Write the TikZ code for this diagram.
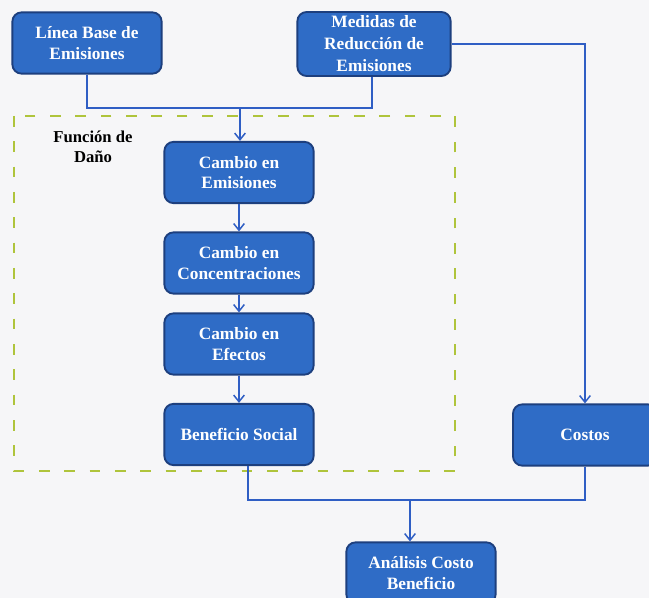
\documentclass[tikz,border=0pt]{standalone}
\usepackage{fontspec}
\setmainfont{Liberation Serif}
\usepackage{xcolor}
\usetikzlibrary{arrows.meta}
\usetikzlibrary{positioning}
\definecolor{boxblue}{HTML}{2F6CC6}
\definecolor{boxedge}{HTML}{1D3F7E}
\definecolor{lineblue}{HTML}{2F5EC4}
\definecolor{danogreen}{HTML}{AFC43C}
\definecolor{paper}{HTML}{F6F6F8}

\begin{document}
\begin{tikzpicture}[x=0.75pt, y=-0.75pt,
	caja/.style={draw=boxedge, line width=1.4pt, fill=boxblue, rounded corners=7pt,
		text=white, font=\bfseries\fontsize{13}{15.5}\selectfont, align=center,
		minimum width=112pt, minimum height=46pt, inner sep=2pt},
	flecha/.style={draw=lineblue, line width=1.1pt, -{Straight Barb[length=5pt,width=8pt]}},
	linea/.style={draw=lineblue, line width=1.1pt}]
					% background
					\fill[paper] (0,0) rectangle (649,598);
					\useasboundingbox (0,0) rectangle (649,598);
					% damage function frame
					\draw[danogreen, line width=1.6pt, dash pattern=on 8pt off 11pt] (14,116) rectangle (455,471);
					\node[font=\bfseries\fontsize{12.5}{15}\selectfont, align=center] (funcion) at (93,147) {Función de\\Daño};
					% draw boxes
					\node[caja] (base) at (87,43) {Línea Base de\\Emisiones};
					\node[caja, minimum width=115pt, minimum height=48pt, font=\bfseries\fontsize{13}{16.5}\selectfont] (medidas) at (374,44) {Medidas de\\Reducción de\\Emisiones};
					\node[caja] (emis) at (239,172.5) {Cambio en\\Emisiones};
					\node[caja] (conc) at (239,263) {Cambio en\\Concentraciones};
					\node[caja] (efec) at (239,344) {Cambio en\\Efectos};
					\node[caja] (social) at (239,434.5) {Beneficio Social};
					\node[caja, minimum width=108pt] (costos) at (585,435) {Costos};
					\node[caja] (analisis) at (421,573) {Análisis Costo\\Beneficio};
					% junctions
					\coordinate (j1) at (240,108);
					\coordinate (j2) at (410,500);
					% add arrows
					\draw[linea] (base.south) |- (j1);
					\draw[linea] (medidas.south -| 372,0) |- (j1);
					\draw[flecha] (j1) -- (emis.north -| j1);
					\draw[flecha] (emis) -- (conc);
					\draw[flecha] (conc) -- (efec);
					\draw[flecha] (efec) -- (social);
					\draw[flecha] (medidas.east) -| (costos.north);
					\draw[linea] (social.south -| 248,0) |- (j2);
					\draw[linea] (costos.south) |- (j2);
					\draw[flecha] (j2) -- (analisis.north -| j2);
				\end{tikzpicture}
\end{document}
